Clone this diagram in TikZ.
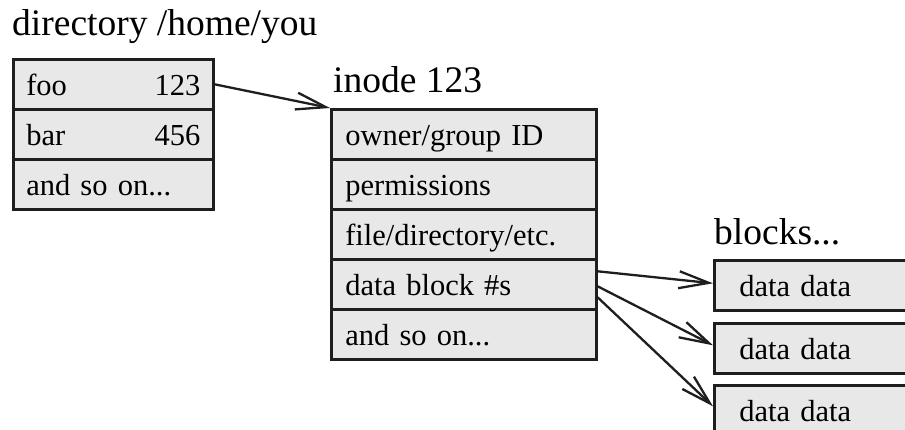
\documentclass[tikz,border=0pt]{standalone}
\usepackage{fontspec}
\setmainfont{Liberation Serif}
\usetikzlibrary{arrows.meta}
\definecolor{cellgray}{RGB}{232,232,232}
\definecolor{edge}{RGB}{30,30,30}
\tikzset{
  cell/.style n args={2}{draw=edge, line width=2.6pt, fill=cellgray, anchor=north west,
    minimum height=50pt, inner ysep=0pt, inner xsep=#2, text width=#1-2*#2, align=left,
    text height=26pt, text depth=4pt,
    font=\fontsize{30.5}{31}\selectfont},
  titletext/.style={anchor=base west, inner sep=0pt, font=\fontsize{37.5}{37.5}\selectfont},
  arr/.style={draw=edge, line width=2.3pt, -{Straight Barb[length=30pt,width=17pt]}}
}
\begin{document}
\begin{tikzpicture}[x=1pt,y=-1pt]
\useasboundingbox (0,0) rectangle (905,430);
\clip (0,0) rectangle (905,430);
% directory
\node[titletext] (tdir) at (12,36) {directory /home/you};
\node[cell={200pt}{13pt}] (d1) at (12,58) {\hbox to 174pt{foo\hfill 123}};
\node[cell={200pt}{13pt}] (d2) at (12,108) {\hbox to 174pt{bar\hfill 456}};
\node[cell={200pt}{13pt}] (d3) at (12,158) {and so on...};
% inode
\node[titletext] (tino) at (333,93) {inode 123};
\node[cell={265pt}{14pt}] (i1) at (330,108) {owner/group ID};
\node[cell={265pt}{14pt}] (i2) at (330,158) {permissions};
\node[cell={265pt}{14pt}] (i3) at (330,208) {file/directory/etc.};
\node[cell={265pt}{14pt}] (i4) at (330,258) {data block \#s};
\node[cell={265pt}{14pt}] (i5) at (330,308) {and so on...};
% blocks
\node[titletext] (tblk) at (714,245) {blocks...};
\node[cell={230pt}{25pt}] (b1) at (713,259) {data data};
\node[cell={230pt}{25pt}] (b2) at (713,322) {data data};
\node[cell={230pt}{25pt}] (b3) at (713,384) {data data};
% arrows
\draw[arr] (d1.east) -- (i1.north west);
\draw[arr] ([yshift=13pt]i4.east) -- ([yshift=2pt]b1.west);
\draw[arr] ([yshift=-2pt]i4.east) -- ([yshift=3pt]b2.west);
\draw[arr] ([yshift=-13pt]i4.east) -- ([yshift=4pt]b3.west);
\end{tikzpicture}
\end{document}
